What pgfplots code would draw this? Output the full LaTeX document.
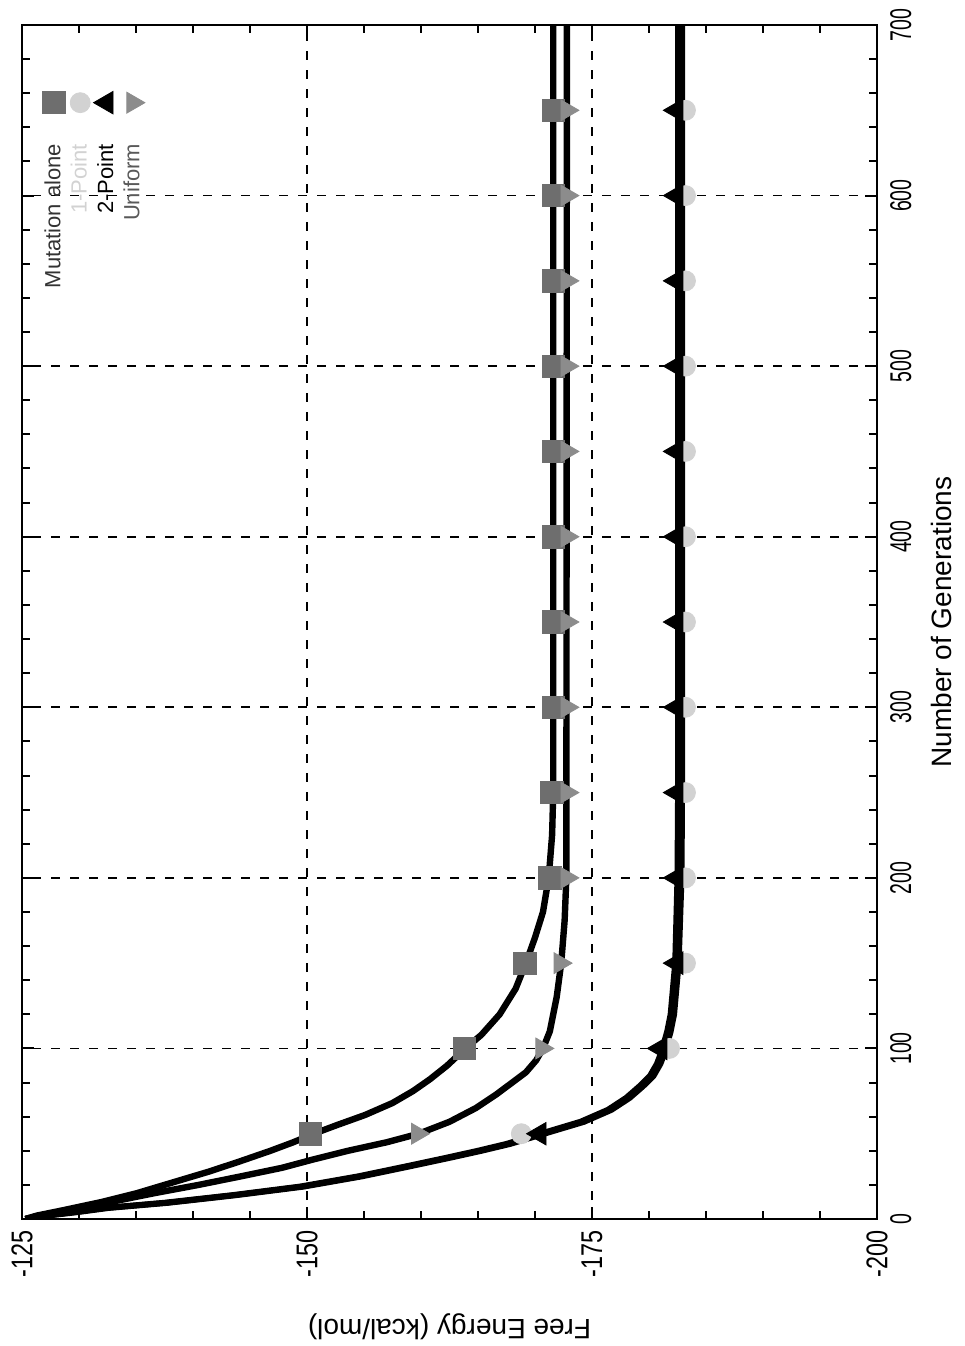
\documentclass[border=0pt]{standalone}
\usepackage{fontspec}
\setmainfont{Liberation Sans}
\usepackage{pgfplots}
\pgfplotsset{compat=1.18}
\definecolor{mutc}{HTML}{6E6E6E}
\definecolor{onec}{HTML}{D2D2D2}
\definecolor{unic}{HTML}{8C8C8C}
\begin{document}
\begin{tikzpicture}[rotate=90,transform shape]
\begin{axis}[
  at={(0pt,0pt)}, anchor=south west,
  scale only axis, width=597pt, height=427.5pt,
  xmin=0, xmax=700, ymin=-200, ymax=-125,
  xtick={0,100,...,700}, ytick={-200,-175,-150,-125},
  minor x tick num=4, minor y tick num=4,
  grid=major,
  major grid style={black, line width=0.8pt, dash pattern=on 4.5pt off 5pt},
  axis line style={line width=1.2pt},
  every tick/.style={black, line width=1pt},
  major tick length=6pt, minor tick length=4pt,
  tick align=inside,
  /pgf/number format/assume math mode=true,
  xticklabel style={font=\fontsize{15}{15}\selectfont, xscale=0.65, yshift=-3pt},
  yticklabel style={font=\fontsize{15}{15}\selectfont, xscale=0.78, xshift=-4pt},
  xlabel={Number of Generations}, ylabel={Free Energy (kcal/mol)},
  xlabel shift=3pt, ylabel shift=12pt,
  label style={font=\fontsize{14}{14}\selectfont},
  legend style={at={(1,1)}, anchor=north east, xshift=-32pt, yshift=-8pt,
    draw=none, fill=none, font=\fontsize{11}{11}\selectfont, row sep=-0.3pt,
    column sep=13pt, cells={anchor=east}, inner sep=1pt},
  legend plot pos=right,
  legend cell align=right,
]
% ---- lines ----
\addplot[black, line width=3.2pt, line join=round, forget plot] coordinates {
(0,-125.3) (2,-126.3) (5,-128.5) (10,-132) (15,-135) (22,-138.5) (28,-141.5)
(34,-144.2) (40,-146.8) (45,-148.8) (50,-150.6) (55,-152.6) (61,-155.1) (68,-157.5)
(75,-159.3) (82,-160.8) (90,-162.3) (100,-163.9) (108,-165.3) (120,-166.9)
(135,-168.3) (150,-169.2) (165,-170.0) (180,-170.7) (200,-171.2) (225,-171.5)
(250,-171.6) (700,-171.6)};
\addplot[black, line width=3.2pt, line join=round, forget plot] coordinates {
(0,-125.3) (2,-126.5) (5,-129) (10,-132.8) (15,-136.5) (20,-140.5) (25,-144.2)
(30,-147.8) (35,-150.6) (40,-153.6) (45,-157) (50,-159.8) (57,-162.5) (65,-164.8)
(73,-166.6) (80,-168) (86,-169.2) (93,-170.1) (100,-170.7) (110,-171.3)
(130,-171.9) (150,-172.3) (175,-172.6) (200,-172.75) (700,-172.8)};
\addplot[black, line width=3pt, line join=round, forget plot] coordinates {
(0,-125.3) (2,-127.2) (4,-129.8) (6.5,-132.6) (9.5,-137.8) (14,-143.8) (19,-149.7)
(25,-154.8) (31,-159.1) (36,-162.6) (40,-165.3) (44,-167.8) (48,-169.8) (52,-171.8)
(57,-174.3) (64,-176.7) (71,-178.3) (78,-179.5) (84,-180.4) (91,-181) (98,-181.4)
(110,-181.9) (120,-182.2) (150,-182.6) (200,-182.85) (250,-182.9) (700,-182.9)};
\addplot[black, line width=3pt, line join=round, forget plot] coordinates {
(0,-125.3) (2,-127) (4,-129.5) (6.5,-132.3) (9.5,-137.5) (14,-143.5) (19,-149.4)
(25,-154.5) (31,-158.8) (36,-162.3) (40,-165) (44,-167.5) (48,-169.5) (52,-171.5)
(57,-174) (64,-176.4) (71,-178) (78,-179.2) (84,-180.1) (91,-180.7) (98,-181.1)
(110,-181.6) (120,-181.9) (150,-182.3) (200,-182.5) (250,-182.55) (700,-182.55)};
% ---- markers ----
\addplot[only marks, mark=square*, mark size=5.6pt, mark options={draw=mutc, fill=mutc}] coordinates {
(50,-150.3) (100,-163.8) (150,-169.1) (200,-171.3) (250,-171.5) (300,-171.6) (350,-171.6)
(400,-171.6) (450,-171.6) (500,-171.6) (550,-171.6) (600,-171.6) (650,-171.6)};
\addlegendentry[text=black!80]{Mutation alone}
\addplot[only marks, mark=*, mark size=5pt, mark options={draw=onec, fill=onec}] coordinates {
(50,-168.8) (100,-181.8) (150,-183.2) (200,-183.2) (250,-183.2) (300,-183.2) (350,-183.2)
(400,-183.2) (450,-183.2) (500,-183.2) (550,-183.2) (600,-183.2) (650,-183.2)};
\addlegendentry[text=onec]{1-Point}
\addplot[only marks, mark=triangle*, mark size=6.5pt, mark options={draw=black, fill=black}] coordinates {
(50,-170.4) (100,-181.0) (150,-182.4) (200,-182.4) (250,-182.4) (300,-182.4) (350,-182.4)
(400,-182.4) (450,-182.4) (500,-182.4) (550,-182.4) (600,-182.4) (650,-182.4)};
\addlegendentry[text=black]{2-Point}
\addplot[only marks, mark=triangle*, mark size=6pt, mark options={draw=unic, fill=unic, rotate=180}] coordinates {
(50,-159.7) (100,-170.6) (150,-172.2) (200,-172.8) (250,-172.8) (300,-172.8) (350,-172.8)
(400,-172.8) (450,-172.8) (500,-172.8) (550,-172.8) (600,-172.8) (650,-172.8)};
\addlegendentry[text=black!65]{Uniform}
\end{axis}
\pgfresetboundingbox
\path (-63.5pt,-44pt) rectangle (609.5pt,438.5pt);
\end{tikzpicture}
\end{document}
